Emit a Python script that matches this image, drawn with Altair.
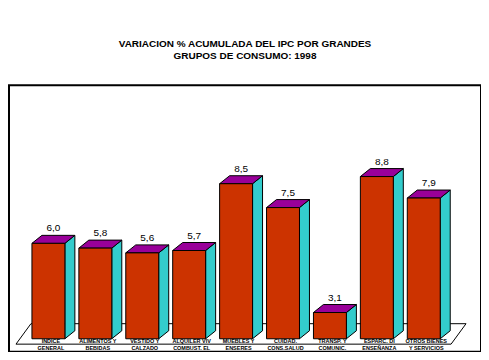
import altair as alt
import pandas as pd

# ---- data ----
labels_line1 = ["INDICE", "ALIMENTOS Y", "VESTIDO Y", "ALQUILER VIV", "MUEBLES Y",
                "CUIDAD.", "TRANSP. Y", "ESPARC. DI", "OTROS BIENES"]
labels_line2 = ["GENERAL", "BEBIDAS", "CALZADO", "COMBUST. EL", "ENSERES",
                "CONS.SALUD", "COMUNIC.", "ENSEÑANZA", "Y SERVICIOS"]
values = [6.0, 5.8, 5.6, 5.7, 8.5, 7.5, 3.1, 8.8, 7.9]
title_lines = ["VARIACION % ACUMULADA DEL IPC POR GRANDES", "GRUPOS DE CONSUMO: 1998"]

# ---- style / geometry ----
BASE = 2.0          # value at which bars stand
HALF = 0.351        # half bar width (category units)
DX = 0.213          # 3D depth, x (category units)
DY = 0.335          # 3D depth, y (value units)
W, H = 473, 267
XDOM = [-0.84, 9.22]
YDOM = [1.46, 12.63]
FRONT, TOP, SIDE = "#CC3300", "#990099", "#33CCCC"

xs = alt.Scale(domain=XDOM, nice=False, zero=False)
ys = alt.Scale(domain=YDOM, nice=False, zero=False)

front_rows, top_rows, side_rows, lab_rows = [], [], [], []
for i, v in enumerate(values):
    front_rows.append({"i": i, "xl": i - HALF, "xr": i + HALF, "v": v, "b": BASE})
    top_rows.append({"i": i, "y": v, "x": i - HALF, "x2": i + HALF})
    top_rows.append({"i": i, "y": v + DY, "x": i - HALF + DX, "x2": i + HALF + DX})
    side_rows.append({"i": i, "x": i + HALF, "y": BASE, "y2": v})
    side_rows.append({"i": i, "x": i + HALF + DX, "y": BASE + DY, "y2": v + DY})
    lab_rows.append({"i": i, "xc": i + DX / 2, "yt": v + DY,
                     "txt": f"{v:.1f}".replace(".", ","),
                     "cat": labels_line1[i] + "\n" + labels_line2[i],
                     "xcat": i + DX / 4})

front_df = pd.DataFrame(front_rows)
top_df = pd.DataFrame(top_rows)
side_df = pd.DataFrame(side_rows)
lab_df = pd.DataFrame(lab_rows)
one = pd.DataFrame({"a": [0]})

def rule(x1, y1, x2, y2):
    return alt.Chart(one).mark_rule(color="black", strokeWidth=1).encode(
        x=alt.value(x1), y=alt.value(y1), x2=alt.value(x2), y2=alt.value(y2))

floor = (rule(7, 259.5, 443, 259.5) + rule(22, 239, 458, 239) +
         rule(7, 259.5, 22, 239) + rule(443, 259.5, 458, 239))

front = alt.Chart(front_df).mark_rect(fill=FRONT, stroke="black", strokeWidth=1).encode(
    x=alt.X("xl:Q", scale=xs, axis=None), x2="xr:Q",
    y=alt.Y("v:Q", scale=ys, axis=None), y2="b:Q")

top = alt.Chart(top_df).mark_area(orient="horizontal", fill=TOP, stroke="black",
                                  strokeWidth=1, opacity=1, fillOpacity=1).encode(
    y=alt.Y("y:Q", scale=ys, axis=None),
    x=alt.X("x:Q", scale=xs, axis=None), x2="x2:Q",
    detail="i:N")

side = alt.Chart(side_df).mark_area(orient="vertical", fill=SIDE, stroke="black",
                                    strokeWidth=1, opacity=1, fillOpacity=1).encode(
    x=alt.X("x:Q", scale=xs, axis=None),
    y=alt.Y("y:Q", scale=ys, axis=None), y2="y2:Q",
    detail="i:N")

vlabels = alt.Chart(lab_df).mark_text(font="Liberation Sans", fontSize=10, color="black",
                                      baseline="middle", dy=-7).encode(
    x=alt.X("xc:Q", scale=xs, axis=None),
    y=alt.Y("yt:Q", scale=ys, axis=None),
    text="txt:N")

clabels = alt.Chart(lab_df).mark_text(font="Liberation Sans", fontSize=5.5, fontWeight="bold",
                                      color="black", baseline="top", lineBreak="\n",
                                      lineHeight=6.5).encode(
    x=alt.X("xcat:Q", scale=xs, axis=None),
    y=alt.value(254.5),
    text="cat:N")

chart = alt.layer(floor, side, top, front, vlabels, clabels).properties(
    width=W, height=H,
    autosize=alt.AutoSizeParams(type="none"),
    padding={"left": 1, "top": 77, "right": 0, "bottom": 0},
    title=alt.TitleParams(title_lines, font="Liberation Sans", fontSize=10,
                          fontWeight="bold", anchor="middle", offset=24,
                          lineHeight=12, color="black"),
).configure(background="white").configure_view(stroke="black", strokeWidth=2)

chart.save("out.html", embed_options={"renderer": "svg", "actions": False})
